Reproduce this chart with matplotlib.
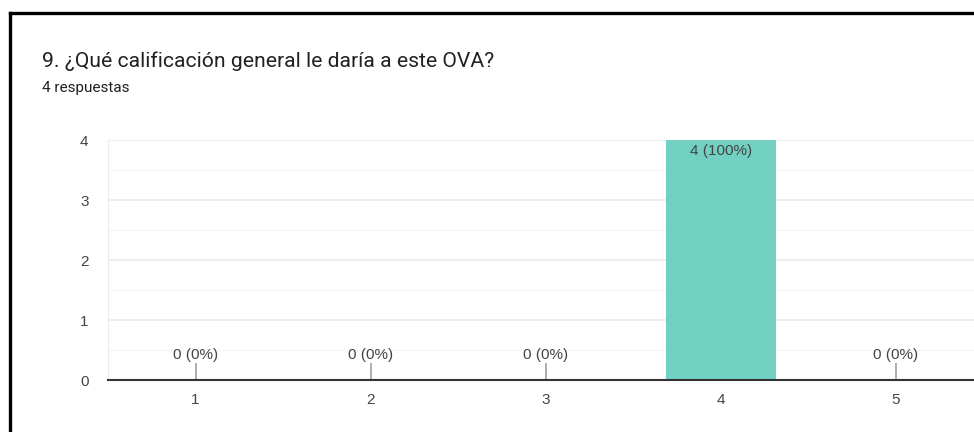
import matplotlib
matplotlib.use("Agg")
from matplotlib import pyplot as plt
from matplotlib.lines import Line2D

categories = ["1", "2", "3", "4", "5"]
counts = [0, 0, 0, 4, 0]
total = 4
title = "9. ¿Qué calificación general le daría a este OVA?"
subtitle = "4 respuestas"

fig = plt.figure(figsize=(9.74, 4.32), dpi=100)
fig.patch.set_facecolor("white")

# black frame of the screenshot (left and top only)
fig.add_artist(Line2D([10 / 974, 10 / 974], [0, 1 - 12.5 / 432], color="black", lw=2.4))
fig.add_artist(Line2D([10 / 974, 1], [1 - 12.5 / 432, 1 - 12.5 / 432], color="black", lw=2.4))

fig.text(42 / 974, 1 - 61 / 432, title, fontsize=15.2, family="Roboto", color="#202124", va="center")
fig.text(42 / 974, 1 - 88 / 432, subtitle, fontsize=11, family="Roboto", color="#202124", va="center")

ax = fig.add_axes([108 / 974, 1 - 380 / 432, 1 - 108 / 974, 240 / 432])
xs = list(range(1, len(categories) + 1))
ax.bar(xs, counts, width=0.63, color="#71d0bf", zorder=3)

ax.set_xlim(0.5, 5.446)
ax.set_ylim(0, 4)
ax.set_yticks([0, 1, 2, 3, 4])
ax.set_yticks([0.5, 1.5, 2.5, 3.5], minor=True)
ax.set_xticks(xs)
ax.set_xticklabels(categories)
ax.grid(axis="y", which="major", color="#ebebeb", lw=1.2, zorder=0)
ax.grid(axis="y", which="minor", color="#f5f5f5", lw=1, zorder=0)
ax.tick_params(axis="both", which="both", length=0, labelsize=11, labelcolor="#444444")
ax.tick_params(axis="y", pad=14)
ax.tick_params(axis="x", pad=9)
for lab in ax.get_xticklabels() + ax.get_yticklabels():
    lab.set_family("Liberation Sans")

for s in ["top", "right"]:
    ax.spines[s].set_visible(False)
ax.spines["left"].set_color("#ebebeb")
ax.spines["bottom"].set_color("#333333")
ax.spines["bottom"].set_linewidth(1.5)
ax.spines["bottom"].set_zorder(5)

for x, c in zip(xs, counts):
    label = f"{c} ({c / total * 100:.0f}%)"
    if c == 0:
        ax.vlines(x, 0, 0.28, color="#a0a0a0", lw=1.2, zorder=4)
        ax.text(x, 0.3, label, ha="center", va="bottom", fontsize=11,
                family="Liberation Sans", color="#444444")
    else:
        ax.text(x, c - 0.07, label, ha="center", va="top", fontsize=11,
                family="Liberation Sans", color="#444444", zorder=6)

plt.savefig("out.png", dpi=100)
